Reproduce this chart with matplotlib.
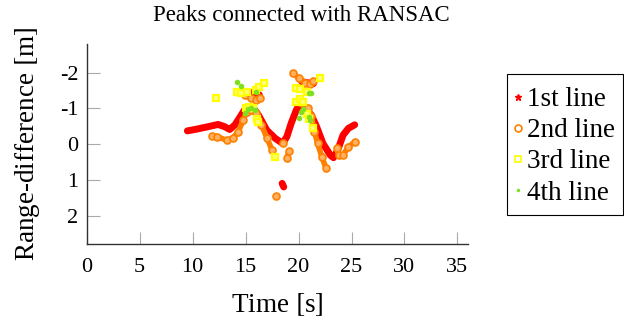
import numpy as np
import matplotlib.pyplot as plt
from matplotlib.lines import Line2D
from matplotlib.patches import Rectangle

plt.rcParams['font.family'] = ['Liberation Serif', 'DejaVu Serif']
plt.rcParams['mathtext.fontset'] = 'stix'
plt.rcParams['axes.unicode_minus'] = False

nan = np.nan

# 1st line (red stars), segments split by nan
x1 = [9.5, 10.4, 11.5, 12.4, 13.0, 13.5, 14.0, 14.5, 14.9, 15.3, 15.7, 16.2, 17.0, 17.8, 18.5,
      18.9, 19.3, 19.8, 20.1, 20.5, 21.2, 21.7, 22.3, 23.0, 23.3, 23.7, 24.2, 24.7, 25.3, nan,
      15.3, 15.8, 16.3, nan,
      20.3, 20.8, 21.4, nan,
      18.45, 18.6]
y1 = [-0.37, -0.42, -0.49, -0.55, -0.49, -0.41, -0.54, -0.77, -0.96, -1.05, -1.02, -0.82, -0.39, -0.16, -0.02,
      -0.21, -0.58, -0.96, -1.12, -1.05, -0.82, -0.49, -0.02, 0.31, 0.38, 0.17, -0.25, -0.44, -0.54, nan,
      -1.45, -1.42, -1.38, nan,
      -1.75, -1.72, -1.69, nan,
      1.1, 1.2]

# 2nd line (orange circles)
x2 = [11.8, 12.3, 13.2, 13.8, 14.3, 14.8, 15.1, 15.5, 16.0, 16.5, 17.0, 17.5, nan,
      18.5, nan,
      19.1, 18.9, nan,
      17.9, nan,
      14.9, 15.5, 16.0, 16.4, nan,
      20.3, 20.9, 21.2, 21.5, 21.8, 22.2, 22.6, nan,
      19.5, 20.0, 20.6, 21.1, 21.4, nan,
      23.6, 23.8, 24.2, 24.7, 25.3]
y2 = [-0.23, -0.21, -0.11, -0.16, -0.35, -0.68, -0.91, -0.96, -0.86, -0.54, -0.18, 0.17, nan,
      -0.04, nan,
      0.19, 0.4, nan,
      1.44, nan,
      -1.38, -1.28, -1.24, -1.3, nan,
      -1.15, -1.0, -0.8, -0.35, -0.02, 0.36, 0.68, nan,
      -1.99, -1.85, -1.71, -1.69, -1.78, nan,
      0.12, 0.31, 0.31, 0.08, -0.06]

# 3rd line (yellow squares)
x3 = [12.2, 14.2, 14.6, 15.1, 16.0, 16.3, 16.7, 15.0, 15.3, 15.7, 16.1, 16.2, 17.8,
      19.8, 20.1, 20.4, 20.8, 21.0, 21.4, 19.8, 20.1, 20.8, 22.0]
y3 = [-1.29, -1.47, -1.43, -1.47, -1.52, -1.6, -1.71, -1.0, -1.05, -1.02, -0.7, -0.63, 0.36,
      -1.19, -1.25, -1.19, -0.85, -0.7, -0.44, -1.57, -1.55, -1.47, -1.85]

# 4th line (green dots)
x4 = [14.2, 14.6, 16.0, 14.9, 15.2, 15.5, 15.9, 20.0, 20.2, 20.4, 21.0, 21.1, 21.0, 21.2]
y4 = [-1.75, -1.63, -1.47, -0.86, -0.98, -1.02, -0.96, -0.72, -0.9, -0.98, -0.75, -0.68, -1.44, -1.42]

labels = ['1st line', '2nd line', '3rd line', '4th line']
red, orange, yellow, green = '#ff0000', '#ff8000', '#ffff00', '#80e020'

W, H = 624, 322
fig = plt.figure(figsize=(6.24, 3.22), dpi=100)
ax = fig.add_axes([0.139, 0.242, 0.611, 0.621])

ax.plot(x1, y1, color=red, lw=5, solid_capstyle='round', solid_joinstyle='round')
ax.plot(x2, y2, color=orange, lw=4, solid_capstyle='round', solid_joinstyle='round',
        marker='o', ms=5, mfc='#ffb060', mec=orange, mew=1.2)
ax.plot(x3, y3, ls='none', marker='s', ms=4, mfc='#ffff80', mec=yellow, mew=1.6)
ax.plot(x4, y4, ls='none', marker='o', ms=3, color=green)

ax.set_xlim(0, 36)
ax.set_ylim(2.8, -2.8)
ax.set_xticks([0, 5, 10, 15, 20, 25, 30, 35])
ax.set_yticks([-2, -1, 0, 1, 2])
ax.spines['top'].set_visible(False)
ax.spines['right'].set_visible(False)
for s in ['left', 'bottom']:
    ax.spines[s].set_color('#333333')
    ax.spines[s].set_linewidth(1)
ax.tick_params(direction='in', length=9, width=0.8, color='#aaaaaa', labelsize=16)
ax.tick_params(axis='x', pad=10)
ax.tick_params(axis='y', pad=6)
ax.set_xlabel('Time $[$s$]$', fontsize=19.5, labelpad=10)
ax.set_ylabel('Range-difference $[$m$]$', fontsize=19.5, labelpad=13)
ax.set_title('Peaks connected with RANSAC', fontsize=16.5, x=0.564, pad=17)

handles = [
    Line2D([], [], ls='none', marker='*', ms=5, color=red),
    Line2D([], [], ls='none', marker='o', ms=5, mfc='none', mec=orange, mew=1.2),
    Line2D([], [], ls='none', marker='s', ms=4, mfc='none', mec=yellow, mew=1.2),
    Line2D([], [], ls='none', marker='.', ms=3, color=green),
]
fig.legend(handles, labels, loc='upper left', bbox_to_anchor=(514 / W, 1 - 87 / H),
           bbox_transform=fig.transFigure, fontsize=19.5, frameon=False,
           handlelength=0.3, handletextpad=0.19, borderpad=0, labelspacing=0.23,
           borderaxespad=0)
# legend frame
fig.patches.append(Rectangle((507 / W, 1 - 215 / H), 116 / W, 141 / H, transform=fig.transFigure,
                             fill=False, edgecolor='black', linewidth=0.8))

fig.savefig('out.png', dpi=100)
